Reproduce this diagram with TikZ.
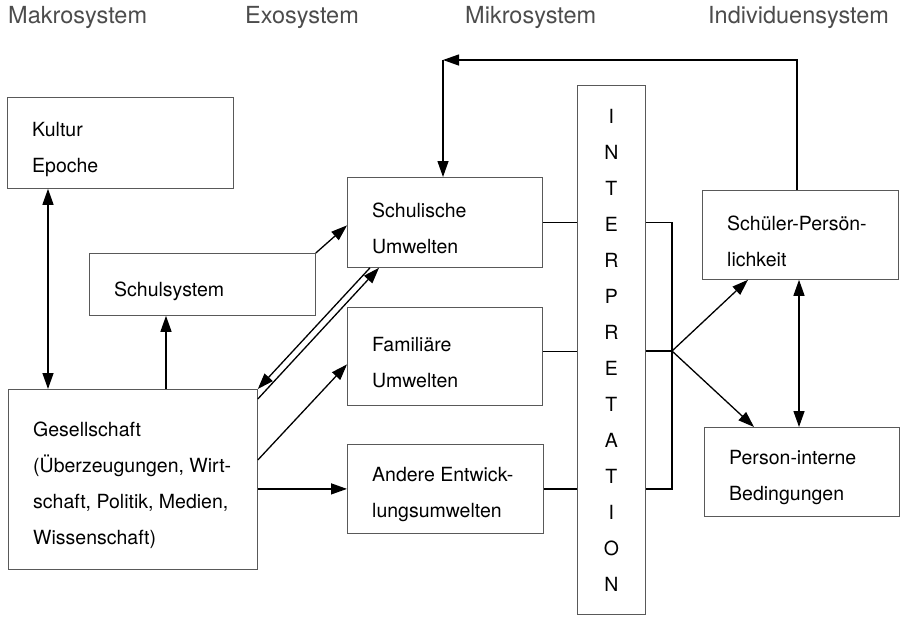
\documentclass[tikz,border=0pt]{standalone}
\usepackage{fontspec}
\setmainfont{TeX Gyre Heros}
\usetikzlibrary{arrows.meta}
\begin{document}
\begin{tikzpicture}[x=1pt,y=-1pt,
  box/.style={draw=black!65, line width=0.8pt, rectangle, inner sep=0pt, anchor=north west},
  txt/.style={anchor=west, align=left, inner sep=0pt, font=\fontsize{19.5}{36}\selectfont},
  head/.style={anchor=west, inner sep=0pt, text=black!70, font=\fontsize{23.5}{28}\selectfont},
  link/.style={line width=1.3pt},
  tip/.tip={Triangle[length=16pt,width=11pt]},
  arr/.style={link, -tip},
  dblarr/.style={link, tip-tip},
]
\useasboundingbox (0,0) rectangle (901,616);

% column headings
\node[head] (makro) at (8,17) {Makrosystem};
\node[head] (exo) at (245,17) {Exosystem};
\node[head] (mikro) at (465,17) {Mikrosystem};
\node[head] (indiv) at (708,17) {Individuensystem};

% boxes
\node[box, minimum width=226pt, minimum height=91pt] (kultur) at (7,97) {};
\node[txt] (kultur-t) at ([xshift=25pt,yshift=-7pt]kultur.west) {Kultur\\Epoche};

\node[box, minimum width=226pt, minimum height=62pt] (schulsys) at (89,253) {};
\node[txt] (schulsys-t) at ([xshift=25pt,yshift=-7pt]schulsys.west) {Schulsystem};

\node[box, minimum width=249pt, minimum height=180pt] (gesell) at (8,389) {};
\node[txt] (gesell-t) at ([xshift=25pt,yshift=-6pt]gesell.west)
  {Gesellschaft\\(Überzeugungen, Wirt-\\schaft, Politik, Medien,\\Wissenschaft)};

\node[box, minimum width=195pt, minimum height=90pt] (schulisch) at (347,177) {};
\node[txt] (schulisch-t) at ([xshift=25pt,yshift=-6pt]schulisch.west) {Schulische\\Umwelten};

\node[box, minimum width=195pt, minimum height=98pt] (famil) at (347,307) {};
\node[txt] (famil-t) at ([xshift=25pt,yshift=-6pt]famil.west) {Familiäre\\Umwelten};

\node[box, minimum width=196pt, minimum height=89pt] (andere) at (347,444) {};
\node[txt] (andere-t) at ([xshift=25pt,yshift=-6pt]andere.west) {Andere Entwick-\\lungsumwelten};

\node[box, minimum width=68pt, minimum height=529pt, align=center,
      font=\fontsize{19.5}{36}\selectfont] (interp) at (577,85)
  {I\\N\\T\\E\\R\\P\\R\\E\\T\\A\\T\\I\\O\\N};

\node[box, minimum width=196pt, minimum height=89pt] (schueler) at (702,190) {};
\node[txt] (schueler-t) at ([xshift=25pt,yshift=-6pt]schueler.west) {Schüler-Persön-\\lichkeit};

\node[box, minimum width=195pt, minimum height=89pt] (person) at (704,427) {};
\node[txt] (person-t) at ([xshift=25pt,yshift=-6pt]person.west) {Person-interne\\Bedingungen};

% junction points
\coordinate (hub) at (672,351);
\coordinate (corner) at (443,60);

% connectors, left part
\draw[dblarr] ([xshift=41pt]kultur.south west) -- ([xshift=40pt]gesell.north west);
\draw[arr] ([xshift=158pt]gesell.north west) -- ([xshift=158pt]gesell.north west |- schulsys.south);
\draw[arr] (schulsys.north east) -- ([yshift=-3pt]schulisch.west);
\draw[arr] ([xshift=23pt]schulisch.south west) -- (gesell.north east);
\draw[arr] ([yshift=-10pt]gesell.north east) -- ([xshift=32pt]schulisch.south west);
\draw[arr] ([yshift=-71pt]gesell.north east) -- ([yshift=-8pt]famil.west);
\draw[arr] (gesell.east |- andere.west) -- (andere.west);

% connectors into and out of the interpretation column
\draw[link] (schulisch.east) -- (schulisch.east -| interp.west);
\draw[link] ([yshift=5pt]famil.east) -- ([yshift=5pt]famil.east -| interp.west);
\draw[link] (andere.east) -- (andere.east -| interp.west);
\draw[link] (schulisch.east -| interp.east) -- (schulisch.east -| hub)
  -- (andere.east -| hub) -- (andere.east -| interp.east);
\draw[link] (hub -| interp.east) -- (hub);

% individual system
\draw[arr] (hub) -- ([xshift=46pt]schueler.south west);
\draw[arr] (hub) -- ([xshift=50pt]person.north west);
\draw[dblarr] ([xshift=97pt]schueler.south west) -- ([xshift=97pt]schueler.south west |- person.north);

% feedback loop
\draw[arr] ([xshift=95pt]schueler.north west) |- (corner);
\draw[arr] (corner) -- (corner |- schulisch.north);
\end{tikzpicture}
\end{document}
